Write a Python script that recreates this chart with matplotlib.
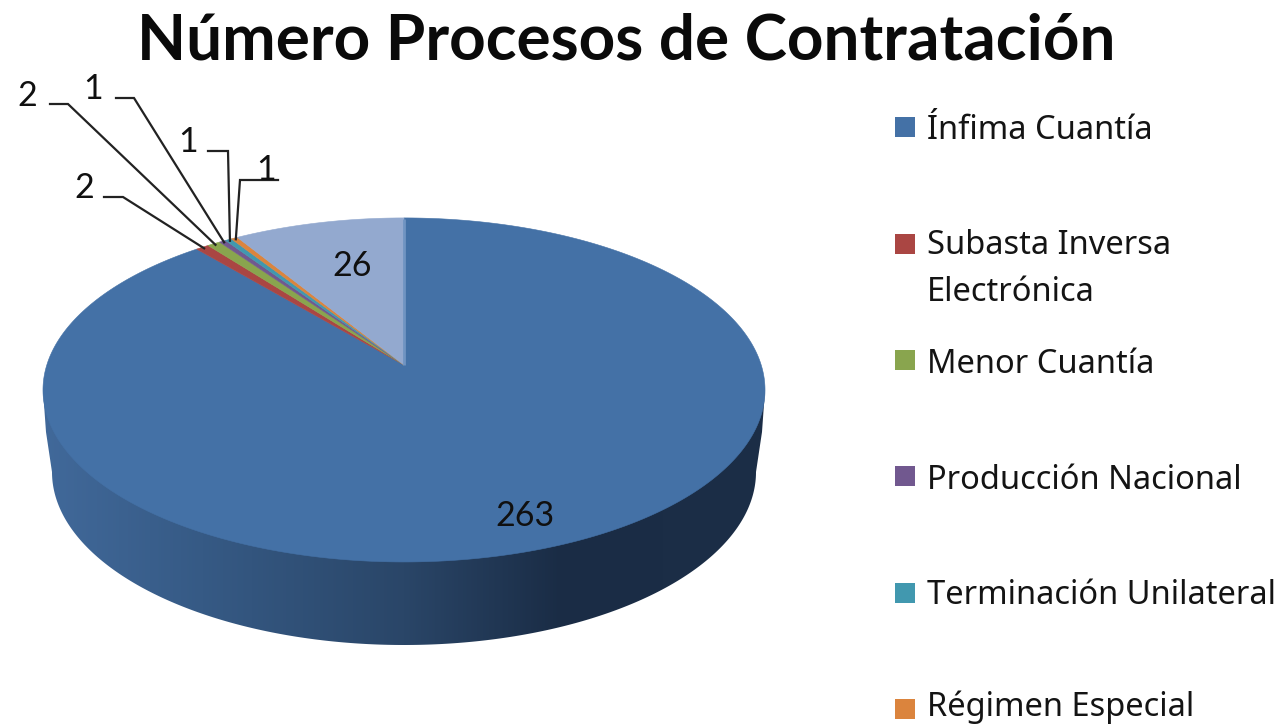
import numpy as np
import matplotlib
matplotlib.use("Agg")
import matplotlib.pyplot as plt
from matplotlib.patches import Polygon, Rectangle
from matplotlib.colors import LinearSegmentedColormap

title = "Número Procesos de Contratación"
categories = ["Ínfima Cuantía", "Subasta Inversa\nElectrónica", "Menor Cuantía",
              "Producción Nacional", "Terminación Unilateral", "Régimen Especial", ""]
values = [263, 2, 2, 1, 1, 1, 26]
colors = ["#4471A6", "#AA4643", "#89A54E", "#71588F", "#4198AF", "#DB843D", "#93A9CF"]

W, H = 1283, 726
fig = plt.figure(figsize=(W / 100, H / 100), dpi=100)
ax = fig.add_axes([0, 0, 1, 1])
ax.set_xlim(0, W)
ax.set_ylim(H, 0)
ax.axis("off")

# Tilted disc as a projective image of the unit circle (far side foreshortened)
CX, CY, A, B, K = 404, 365, 357.2, 168.4, 0.145


def disc(theta_deg, r=1.0):
    t = np.radians(theta_deg)
    u, v = r * np.sin(t), r * np.cos(t)
    w = 1 + K * v
    return CX + A * u / w, CY - B * v / w


# Side wall
BX, BY, BA, BB = 404, 472, 352, 173
t = np.linspace(0, np.pi, 300)
wall_x = BX + BA * np.cos(t)
wall_y = BY + BB * np.sin(t)
wall = np.vstack([[[765, 390]], [[762, 432]], np.column_stack([wall_x, wall_y]),
                  [[46, 432]], [[43, 390]]])
cmap = LinearSegmentedColormap.from_list("wall", [
    (0.00, "#41699A"), (0.22, "#365A85"), (0.50, "#2A4668"),
    (0.72, "#1A2C45"), (1.00, "#1C2E47")])
grad = np.linspace(0, 1, 512)[None, :]
im = ax.imshow(grad, extent=(43, 765, 650, 380), cmap=cmap, aspect="auto", zorder=1)
poly = Polygon(wall, closed=True, transform=ax.transData, fc="none", ec="none")
ax.add_patch(poly)
im.set_clip_path(poly)
ax.set_xlim(0, W)
ax.set_ylim(H, 0)

# Top of the pie, clockwise from 12 o'clock
edges = np.concatenate([[0], np.cumsum(values)]) / np.sum(values) * 360
for i, col in enumerate(colors):
    th = np.linspace(edges[i], edges[i + 1], max(int(edges[i + 1] - edges[i]) * 3, 8))
    x, y = disc(th)
    ax.fill(np.r_[CX, x], np.r_[CY, y], fc=col, ec=col, lw=0.4, zorder=2 + (i > 0))

# lighter seam along the 12 o'clock edge
x0, y0 = disc(0.0)
ax.plot([CX - 0.5, x0 - 0.5], [CY, y0 + 1], color="#7094C2", lw=2, zorder=4,
        solid_capstyle="butt")

# Data labels
text_font = ["Lato", "DejaVu Sans"]
legend_font = ["Noto Sans", "DejaVu Sans"]
ax.text(525, 516, str(values[0]), ha="center", va="center", fontsize=24.5,
        family=text_font, color="#101010", zorder=6)
ax.text(352, 266, str(values[6]), ha="center", va="center", fontsize=24.5,
        family=text_font, color="#101010", zorder=6)

label_pos = [(84, 188), (27, 96), (93, 89), (188, 142), (266, 170)]
elbow_start = [(104, 197), (50, 104), (116, 98), (208, 151), (278, 180)]
elbow_end = [(123, 197), (68, 104), (134, 98), (228, 151), (240, 180)]
for i, (lp, s, e) in enumerate(zip(label_pos, elbow_start, elbow_end), start=1):
    mid = (edges[i] + edges[i + 1]) / 2
    rx, ry = disc(mid, 0.99)
    ax.plot([s[0], e[0], rx], [s[1], e[1], ry], color="#222222", lw=1.6, zorder=5,
            solid_joinstyle="miter")
    ax.text(lp[0], lp[1], str(values[i]), ha="center", va="center", fontsize=24.5,
            family=text_font, color="#101010", zorder=6)

# Legend
legend_y = [127, 244, 360, 476, 593, 709]
text_y = [130.5, 269, 364.5, 480.5, 596, 707.5]
for name, col, sy, ty in zip(categories[:6], colors, legend_y, text_y):
    ax.add_patch(Rectangle((895, sy - 10), 20, 20, fc=col, ec="none", zorder=3))
    ax.text(927, ty, name, ha="left", va="center", fontsize=23.5, family=legend_font,
            color="#141414", linespacing=1.57, zorder=6)

ax.text(626, 41, title, ha="center", va="center", fontsize=46, fontweight="bold",
        family=["Lato", "DejaVu Sans"], color="#0A0A0A", zorder=6)

fig.savefig("out.png", dpi=100, facecolor="white")
